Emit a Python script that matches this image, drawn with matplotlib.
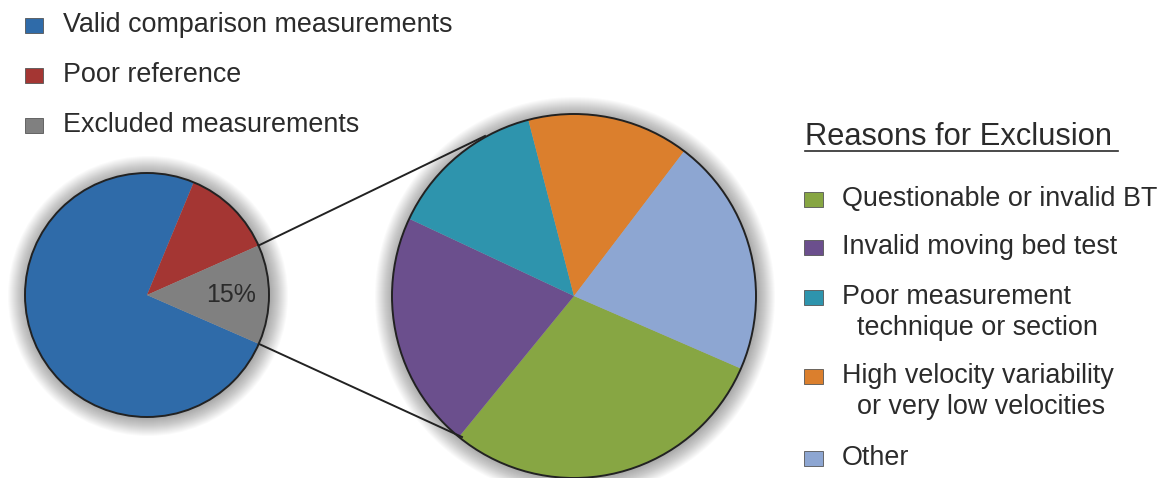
import matplotlib.pyplot as plt
from matplotlib.patches import Circle, Rectangle
import numpy as np

main_labels = ['Valid comparison measurements', 'Poor reference', 'Excluded measurements']
main_values = [74.7, 12.1, 13.2]
main_colors = ['#2F6BA9', '#A43633', '#808080']
excluded_label = '15%'

# right pie: reasons for exclusion
reason_labels = ['Questionable or invalid BT', 'Invalid moving bed test',
                 'Poor measurement\ntechnique or section',
                 'High velocity variability\nor very low velocities', 'Other']
reason_values = [29.4, 21.1, 14.0, 14.4, 21.2]
reason_colors = ['#87A643', '#6B4F8D', '#2E94AD', '#DB7F2D', '#8DA6D2']

W, H = 1161, 478
fig = plt.figure(figsize=(W / 100, H / 100), dpi=100)
ax = fig.add_axes([0, 0, 1, 1])
plt.rcParams['font.family'] = ['Liberation Sans', 'DejaVu Sans']
TXT = '#2b2b2b'

def py(y):  # pixel row -> data y (y up)
    return H - y

c1, r1 = (147, py(295)), 122
c2, r2 = (574, py(296)), 182

# soft shadow round both circles
for c, r in [(c1, r1), (c2, r2)]:
    for k in range(1, 19):
        ax.add_patch(Circle((c[0] + 1, c[1] - 1), r + k, color='black', alpha=0.018,
                            lw=0, zorder=1))

ax.pie(main_values, colors=main_colors, center=c1, radius=r1, startangle=-23.6,
       counterclock=False, wedgeprops=dict(linewidth=0, zorder=2), frame=True)
ax.pie(reason_values, colors=reason_colors, center=c2, radius=r2, startangle=-23.5,
       counterclock=False, wedgeprops=dict(linewidth=0, zorder=2), frame=True)
for c, r in [(c1, r1), (c2, r2)]:
    ax.add_patch(Circle(c, r, fill=False, ec='#222222', lw=1.4, zorder=4))

# connector lines from the excluded slice to the big circle
ex_a0 = -23.6
ex_a1 = ex_a0 + 360 * main_values[2] / sum(main_values)
for ang, end in [(ex_a1, (485, 136)), (ex_a0, (462, 437))]:
    p = np.array(c1) + r1 * np.array([np.cos(np.radians(ang)), np.sin(np.radians(ang))])
    ax.plot([p[0], end[0]], [p[1], py(end[1])], color='#222222', lw=1.4, zorder=3)

ax.text(231, py(295), excluded_label, fontsize=18, color=TXT, ha='center', va='center', zorder=5)

# top-left legend
for i, (lab, col) in enumerate(zip(main_labels, main_colors)):
    y = 25 + i * 50
    ax.add_patch(Rectangle((25, py(y) - 7.5), 18, 15, fc=col, ec='#555555', lw=0.6, zorder=5))
    ax.text(63, py(y), lab, fontsize=19.4, color=TXT, va='center', ha='left')

# right legend
ax.text(805, py(145), 'Reasons for Exclusion', fontsize=22.2, color=TXT, va='baseline', ha='left')
ax.plot([805, 1118], [py(151), py(151)], color=TXT, lw=1.2)
ys = [199, 247, 297, 376, 458]
for lab, col, y in zip(reason_labels, reason_colors, ys):
    ax.add_patch(Rectangle((804, py(y) - 7.5), 19, 15, fc=col, ec='#555555', lw=0.6, zorder=5))
    lines = lab.split('\n')
    ax.text(842, py(y), lines[0], fontsize=19.4, color=TXT, va='center', ha='left')
    if len(lines) > 1:
        ax.text(857, py(y + 31), lines[1], fontsize=19.4, color=TXT, va='center', ha='left')

ax.set_xlim(0, W)
ax.set_ylim(0, H)
ax.set_aspect('equal')
ax.axis('off')
fig.savefig('out.png', dpi=100)
